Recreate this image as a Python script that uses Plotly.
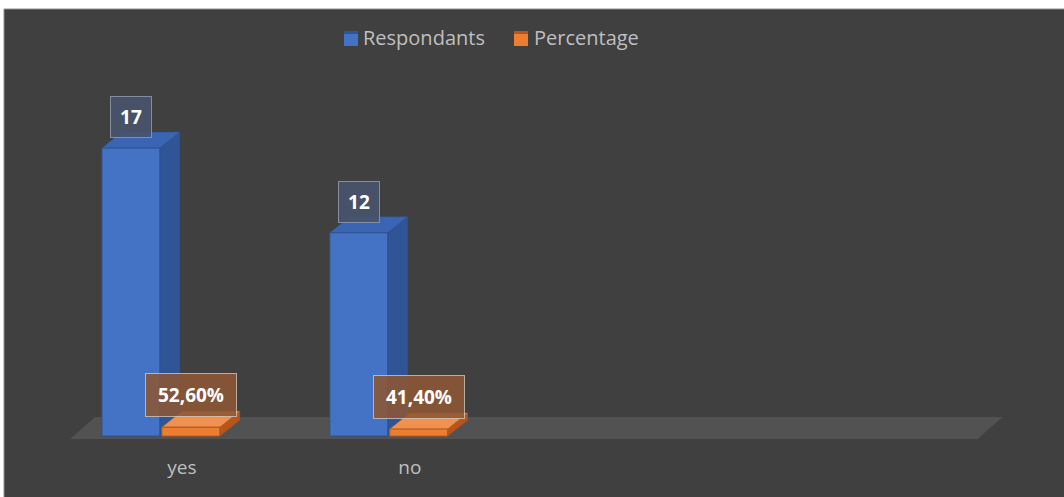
import plotly.graph_objects as go

# ---------------- data ----------------
categories = ["yes", "no"]
respondants = [17, 12]
percentage = [0.526, 0.414]
series_names = ["Respondants", "Percentage"]
n_slots = 4  # category slots on the axis (two left empty, as in the original)

# ---------------- styling / layout ----------------
W, H = 1064, 497
SLOT_PX = 228
X_MIN, X_MAX = -0.5, n_slots - 0.5 + 0.16
ML, MT, MB = 68, 80, 55
PW = round(SLOT_PX * (X_MAX - X_MIN))
MR = W - ML - PW
PH = H - MT - MB
Y_MIN, Y_MAX = -0.35, 21.02
PX_PER_UNIT = PH / (Y_MAX - Y_MIN)

BG = "#404040"
TXT = "#bfbfbf"
FONT = "Open Sans"

BAR_W = 0.254
OFFSETS = [-0.351, -0.088]
FRONT = ["#4472c4", "#ed7d31"]
SIDE = ["#2f5597", "#b8551a"]
TOP = ["#3a65b5", "#f0914f"]
EDGE = ["#2f528f", "#ae5a21"]
DX = 20 / SLOT_PX            # depth shift in x units
DY = 16 / PX_PER_UNIT        # depth shift in y units


def px_x(px):
    return (px - ML) / PW


def px_y(py):
    return (H - MB - py) / PH


fig = go.Figure()
shapes = []
annotations = []

# chart area background + border
shapes.append(dict(type="rect", xref="paper", yref="paper",
                   x0=px_x(4), x1=px_x(1070), y0=px_y(503), y1=px_y(9),
                   fillcolor=BG, line=dict(color="#8c8c8c", width=1), layer="below"))

# floor (3D base)
fy0, fy1 = -3 / PX_PER_UNIT, 19 / PX_PER_UNIT
fdx = 25 / SLOT_PX
fx0, fx1 = -0.5 + 0.009, n_slots - 0.5 - 0.009
shapes.append(dict(type="path", xref="x", yref="y", layer="below",
                   path=f"M{fx0},{fy0} L{fx1},{fy0} L{fx1 + fdx},{fy1} L{fx0 + fdx},{fy1} Z",
                   fillcolor="#525252", line=dict(width=0)))

all_vals = [respondants, percentage]
xs = list(range(len(categories)))

# side and top faces (drawn under the front faces)
for s, vals in enumerate(all_vals):
    for i, v in enumerate(vals):
        x0 = xs[i] + OFFSETS[s]
        x1 = x0 + BAR_W
        shapes.append(dict(type="path", xref="x", yref="y", layer="below",
                           path=f"M{x1},0 L{x1},{v} L{x1 + DX},{v + DY} L{x1 + DX},{DY} Z",
                           fillcolor=SIDE[s], line=dict(color=EDGE[s], width=0.5)))
        shapes.append(dict(type="path", xref="x", yref="y", layer="below",
                           path=f"M{x0},{v} L{x1},{v} L{x1 + DX},{v + DY} L{x0 + DX},{v + DY} Z",
                           fillcolor=TOP[s], line=dict(color=EDGE[s], width=0.5)))

# front faces as real bars
for s, vals in enumerate(all_vals):
    fig.add_trace(go.Bar(
        x=xs, y=vals, name=series_names[s],
        offset=OFFSETS[s], width=BAR_W,
        marker=dict(color=FRONT[s], line=dict(color=EDGE[s], width=1)),
        showlegend=False, hoverinfo="x+y",
    ))

# data labels
label_bg = ["rgba(72,84,108,0.92)", "rgba(140,86,52,0.88)"]
label_border = ["rgba(140,148,165,0.9)", "rgba(215,205,195,0.75)"]
label_w = [24, 72]
for s, vals in enumerate(all_vals):
    for i, v in enumerate(vals):
        txt = str(v) if s == 0 else f"{v * 100:.2f}%".replace(".", ",")
        annotations.append(dict(
            x=xs[i] + OFFSETS[s] + BAR_W / 2, y=v, xref="x", yref="y",
            text=f"<b>{txt}</b>", showarrow=False, yanchor="bottom", yshift=10,
            font=dict(family=FONT, size=19, color="white"),
            bgcolor=label_bg[s], bordercolor=label_border[s], borderwidth=1,
            borderpad=8 if s == 0 else 9, width=label_w[s], height=24,
        ))

# manual legend
leg_items = [(344, 361), (514, 532)]
for s, (sq, tx) in enumerate(leg_items):
    shapes.append(dict(type="rect", xref="paper", yref="paper",
                       x0=px_x(sq), x1=px_x(sq + 14), y0=px_y(46), y1=px_y(32),
                       fillcolor=FRONT[s], line=dict(width=0)))
    shapes.append(dict(type="rect", xref="paper", yref="paper",
                       x0=px_x(sq), x1=px_x(sq + 14), y0=px_y(34), y1=px_y(31),
                       fillcolor=SIDE[s], line=dict(width=0)))
    annotations.append(dict(x=px_x(tx), y=px_y(38), xref="paper", yref="paper",
                            text=series_names[s], showarrow=False,
                            xanchor="left", yanchor="middle",
                            font=dict(family=FONT, size=20, color=TXT)))

fig.update_layout(
    width=W, height=H,
    margin=dict(l=ML, r=MR, t=MT, b=MB),
    paper_bgcolor="white", plot_bgcolor="rgba(0,0,0,0)",
    shapes=shapes, annotations=annotations,
    barmode="overlay", showlegend=False,
    font=dict(family=FONT, color=TXT),
    xaxis=dict(range=[X_MIN, X_MAX], tickvals=list(range(n_slots)),
               ticktext=categories + [""] * (n_slots - len(categories)),
               showgrid=False, zeroline=False, showline=False,
               ticks="outside", ticklen=8, tickcolor="rgba(0,0,0,0)",
               tickfont=dict(family=FONT, size=19, color=TXT), fixedrange=True),
    yaxis=dict(range=[Y_MIN, Y_MAX], visible=False, showgrid=False,
               zeroline=False, fixedrange=True),
)

fig.write_html("out.html")
